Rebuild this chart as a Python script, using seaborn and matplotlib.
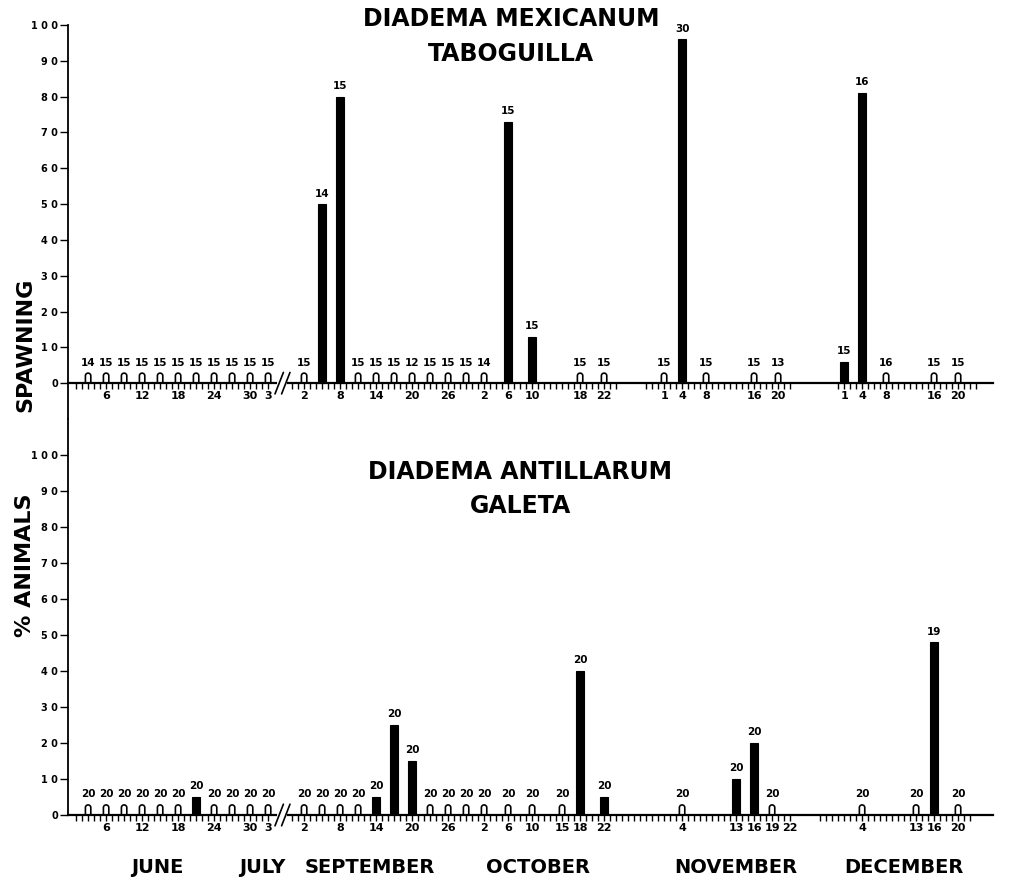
import numpy as np
import pandas as pd
import matplotlib
matplotlib.use("Agg")
import matplotlib.pyplot as plt
from matplotlib.path import Path
from matplotlib.patches import PathPatch
import seaborn as sns

# Diadema mexicanum, Taboguilla
mex_open_dates = ["06-03", "06-06", "06-09", "06-12", "06-15", "06-18", "06-21", "06-24",
                  "06-27", "06-30", "07-03", "09-02", "09-11", "09-14", "09-17", "09-20",
                  "09-23", "09-26", "09-29", "10-02", "10-18", "10-22", "11-01", "11-08",
                  "11-16", "11-20", "12-08", "12-16", "12-20"]
mex_open_n = [14, 15, 15, 15, 15, 15, 15, 15, 15, 15, 15, 15, 15, 15, 15, 12,
              15, 15, 15, 14, 15, 15, 15, 15, 15, 13, 16, 15, 15]
mex_spawn_dates = ["09-05", "09-08", "10-06", "10-10", "11-04", "12-01", "12-04"]
mex_spawn_pct = [50, 80, 73, 13, 96, 6, 81]
mex_spawn_n = [14, 15, 15, 15, 30, 15, 16]
mex_tick_dates = ["06-06", "06-12", "06-18", "06-24", "06-30", "07-03", "09-02", "09-08",
                  "09-14", "09-20", "09-26", "10-02", "10-06", "10-10", "10-18", "10-22",
                  "11-01", "11-04", "11-08", "11-16", "11-20", "12-01", "12-04", "12-08",
                  "12-16", "12-20"]

# Diadema antillarum, Galeta
ant_open_dates = ["06-03", "06-06", "06-09", "06-12", "06-15", "06-18", "06-24", "06-27",
                  "06-30", "07-03", "09-02", "09-05", "09-08", "09-11", "09-23", "09-26",
                  "09-29", "10-02", "10-06", "10-10", "10-15", "11-04", "11-19", "12-04",
                  "12-13", "12-20"]
ant_open_n = [20] * 26
ant_spawn_dates = ["06-21", "09-14", "09-17", "09-20", "10-18", "10-22", "11-13", "11-16", "12-16"]
ant_spawn_pct = [5, 5, 25, 15, 40, 5, 10, 20, 48]
ant_spawn_n = [20, 20, 20, 20, 20, 20, 20, 20, 19]
ant_tick_dates = ["06-06", "06-12", "06-18", "06-24", "06-30", "07-03", "09-02", "09-08",
                  "09-14", "09-20", "09-26", "10-02", "10-06", "10-10", "10-15", "10-18",
                  "10-22", "11-04", "11-13", "11-16", "11-19", "11-22", "12-04", "12-13",
                  "12-16", "12-20"]

months = ["JUNE", "JULY", "SEPTEMBER", "OCTOBER", "NOVEMBER", "DECEMBER"]
month_label_pos = [14.5, 32, 50, 78, 111, 139]
y_ticks = list(range(0, 101, 10))
y_ticklabels = [" ".join(str(v)) for v in y_ticks]

OPEN_H = 2.8  # height of the open "no spawning" symbol


def to_pos(md):
    """Axis position in days; the July-August gap is cut out."""
    d = pd.Timestamp(f"1977-{md}")
    pos = d.dayofyear - 151
    if d.month >= 9:
        pos -= 55
    return pos


def arches(ax, rects, aspect):
    # turn the plain open bars into arch shaped symbols
    for r in rects:
        x0, w, h = r.get_x(), r.get_width(), r.get_height()
        ry = w / 2 * aspect
        t = np.linspace(np.pi, 0, 24)
        verts = [(x0, 0)] + list(zip(x0 + w / 2 + w / 2 * np.cos(t), h - ry + ry * np.sin(t))) \
            + [(x0 + w, 0)]
        ax.add_patch(PathPatch(Path(verts), facecolor="white", edgecolor="black", lw=1.2,
                               zorder=2))
        r.set_visible(False)


def draw_panel(ax, open_dates, open_n, spawn_dates, spawn_pct, spawn_n, tick_dates,
               minor_days, ylim, zero_spine):
    ax.set_ylim(*ylim)
    if zero_spine:
        ax.spines["bottom"].set_position(("data", 0))
    xo = np.array([to_pos(d) for d in open_dates])
    xs = np.array([to_pos(d) for d in spawn_dates])
    n0 = len(ax.patches)
    sns.barplot(x=xo, y=[OPEN_H] * len(xo), native_scale=True, width=0.3, color="white",
                edgecolor="black", linewidth=1.2, saturation=1, errorbar=None, ax=ax)
    open_rects = list(ax.patches[n0:])
    sns.barplot(x=xs, y=spawn_pct, native_scale=True, width=0.45, color="black",
                edgecolor="black", linewidth=0.8, saturation=1, errorbar=None, ax=ax)
    arches(ax, open_rects, 1.65)
    for x, n in zip(xo, open_n):
        ax.annotate(str(n), (x, OPEN_H), xytext=(0, 4), textcoords="offset points",
                    ha="center", va="bottom", fontsize=7.5, fontweight="bold")
    for x, v, n in zip(xs, spawn_pct, spawn_n):
        ax.annotate(str(n), (x, v), xytext=(0, 4), textcoords="offset points",
                    ha="center", va="bottom", fontsize=7.5, fontweight="bold")
    ax.set_xlim(-0.35, 153.8)
    ax.set_ylim(*ylim)
    ax.set_xticks([to_pos(d) for d in tick_dates])
    ax.set_xticklabels([str(int(d.split("-")[1])) for d in tick_dates],
                       fontsize=8, fontweight="bold")
    ax.set_xticks(minor_days, minor=True)
    ax.tick_params(axis="x", which="both", direction="out", length=4, width=1, pad=2)
    ax.set_yticks(y_ticks)
    ax.set_yticklabels(y_ticklabels, fontsize=7, fontweight="bold")
    ax.tick_params(axis="y", direction="out", length=6, width=1, pad=1)
    ax.spines["top"].set_visible(False)
    ax.spines["right"].set_visible(False)
    ax.spines["left"].set_linewidth(1.3)
    ax.spines["bottom"].set_linewidth(1.6)
    ax.set_xlabel("")
    ax.set_ylabel("")
    # axis break between July and September
    bx = 35.4
    ax.plot([bx - 0.5, bx + 0.5], [0, 0], color="white", lw=3, zorder=4, clip_on=False)
    for dx in (-0.55, 0.55):
        ax.plot([bx + dx - 0.7, bx + dx + 0.7], [-3, 3], color="black", lw=1.2,
                zorder=5, clip_on=False)


sns.set_style("ticks")
plt.rcParams["font.family"] = ["DejaVu Sans"]
for k in ("text.color", "axes.labelcolor", "xtick.color", "ytick.color", "axes.edgecolor"):
    plt.rcParams[k] = "black"

fig = plt.figure(figsize=(10.09, 8.83), dpi=100)
ax1 = fig.add_axes([0.0674, 0.5255, 0.9166, 0.4462])
ax2 = fig.add_axes([0.0674, 0.0770, 0.9166, 0.4485])

top_minor = list(range(1, 34)) + list(range(37, 92)) + list(range(96, 121)) + list(range(128, 152))
bot_minor = list(range(1, 34)) + list(range(37, 121)) + list(range(125, 151))

draw_panel(ax1, mex_open_dates, mex_open_n, mex_spawn_dates, mex_spawn_pct, mex_spawn_n,
           mex_tick_dates, top_minor, (-10, 100), True)
draw_panel(ax2, ant_open_dates, ant_open_n, ant_spawn_dates, ant_spawn_pct, ant_spawn_n,
           ant_tick_dates, bot_minor, (0, 110), False)

ax1.text(73.5, 101.8, "DIADEMA MEXICANUM", ha="center", va="center", fontsize=17,
         fontweight="bold", clip_on=False)
ax1.text(73.5, 91.8, "TABOGUILLA", ha="center", va="center", fontsize=17, fontweight="bold")
ax2.text(75, 95.3, "DIADEMA ANTILLARUM", ha="center", va="center", fontsize=17,
         fontweight="bold")
ax2.text(75, 85.8, "GALETA", ha="center", va="center", fontsize=17, fontweight="bold")

for m, x in zip(months, month_label_pos):
    ax2.text(x, -14.7, m, ha="center", va="center", fontsize=14, fontweight="bold",
             clip_on=False)

# y label: the two words sit on either side of the lower panel's 100 tick
fig.text(0.0248, 1 - 345 / 883, "SPAWNING", rotation=90, ha="center", va="center",
         fontsize=16, fontweight="bold")
fig.text(0.0248, 1 - 565 / 883, "% ANIMALS", rotation=90, ha="center", va="center",
         fontsize=16, fontweight="bold")

fig.savefig("out.png", dpi=100)
